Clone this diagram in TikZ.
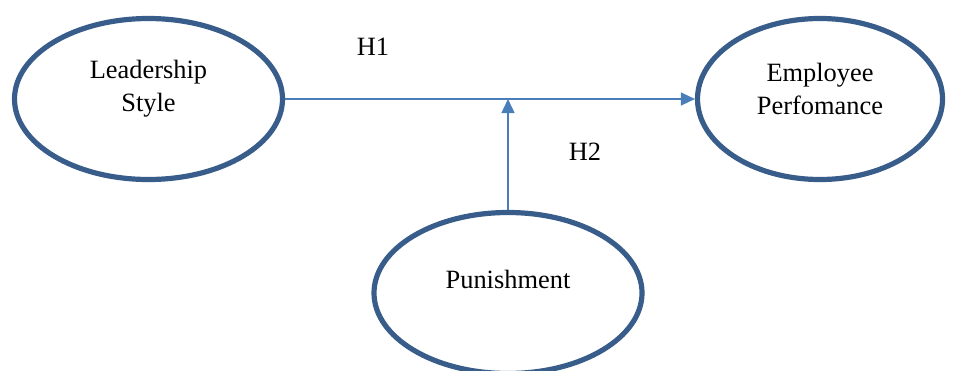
\documentclass[tikz,border=0pt]{standalone}
\usepackage{fontspec}
\setmainfont{Liberation Serif}
\usetikzlibrary{shapes.geometric,arrows.meta}
\definecolor{ovalblue}{HTML}{385D8A}
\definecolor{arrowblue}{HTML}{4A7EBB}
\begin{document}
\begin{tikzpicture}[x=0.5pt,y=-0.5pt,
    construct/.style={draw=ovalblue, line width=2.6pt, ellipse, minimum width=134pt, minimum height=80.5pt},
    caption/.style={font=\fontsize{13.2}{16.5}\selectfont, align=center},
    link/.style={draw=arrowblue, line width=0.75pt, -{Triangle[length=7pt,width=6.5pt]}}]
        \useasboundingbox (0,0) rectangle (956,370);
        \node (leader) [construct, label={[caption, yshift=5pt]center:Leadership\\Style}] at (148.5,99) {};
        \node (perform) [construct, minimum width=122.5pt, label={[caption, yshift=5pt]center:Employee\\Perfomance}] at (820,99) {};
        \node (punish) [construct, label={[caption, yshift=7pt]center:Punishment}] at (508,293) {};
        \node (h1) [caption] at (373,47) {H1};
        \node (h2) [caption] at (585,152) {H2};

        \draw[link] (leader) -- (perform);
        \draw[link] (punish) -- (punish.north |- leader.east);
    \end{tikzpicture}
\end{document}
